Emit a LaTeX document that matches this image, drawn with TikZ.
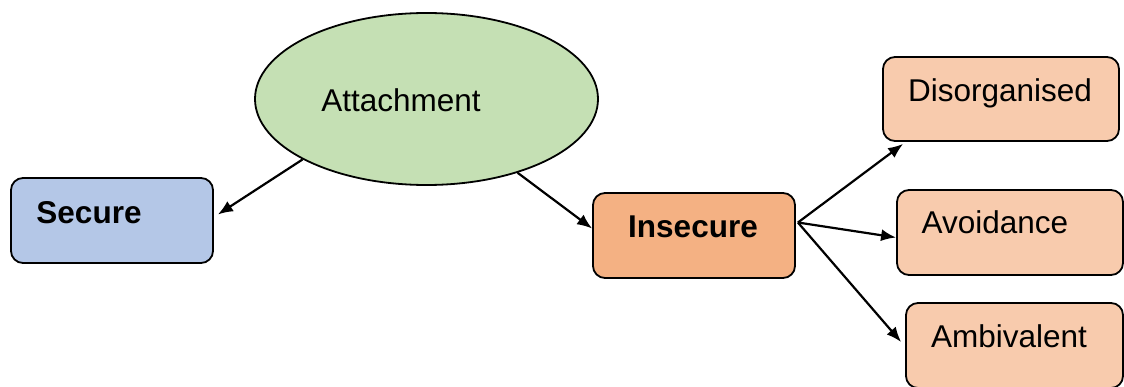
\documentclass[tikz,border=0pt]{standalone}
\usepackage{fontspec}
\setmainfont{Liberation Sans}
\usetikzlibrary{shapes.geometric,arrows.meta,calc}

\definecolor{securefill}{HTML}{B4C7E7}
\definecolor{attachfill}{HTML}{C5E0B4}
\definecolor{insecurefill}{HTML}{F4B183}
\definecolor{subfill}{HTML}{F8CBAD}

\tikzset{
  box/.style={draw=black, line width=1.8pt, rounded corners=12pt, inner sep=0pt},
  oval/.style={ellipse, draw=black, line width=1.8pt, inner sep=0pt},
  lbl/.style={anchor=base, inner sep=0pt, font=\fontsize{31.5}{36}\selectfont},
  conn/.style={line width=2.2pt, -{Latex[length=15pt,width=12pt]}},
}

\begin{document}
\begin{tikzpicture}[x=1pt,y=1pt]
  \clip (0,0) rectangle (1124,386);

  % shapes
  \node[oval, fill=attachfill, minimum width=343pt, minimum height=172pt] (att) at (426.5,287) {};
  \node[box, fill=securefill, minimum width=202pt, minimum height=85pt] (sec) at (112,165.5) {};
  \node[box, fill=insecurefill, minimum width=202pt, minimum height=85pt] (ins) at (694,150.5) {};
  \node[box, fill=subfill, minimum width=236pt, minimum height=84pt] (dis) at (1001,287) {};
  \node[box, fill=subfill, minimum width=226pt, minimum height=85pt] (avo) at (1010,153.5) {};
  \node[box, fill=subfill, minimum width=217pt, minimum height=85pt] (amb) at (1014.5,40.5) {};

  % labels
  \node[lbl] (att-t) at (401,274) {Attachment};
  \node[lbl, font=\fontsize{31.5}{36}\selectfont\bfseries] (sec-t) at (89,163) {Secure};
  \node[lbl, font=\fontsize{31.5}{36}\selectfont\bfseries] (ins-t) at (693,149) {Insecure};
  \node[lbl] (dis-t) at (1000,284) {Disorganised};
  \node[lbl] (avo-t) at (995,153) {Avoidance};
  \node[lbl] (amb-t) at (1009,39) {Ambivalent};

  % connectors
  \coordinate (fork) at ($(ins.east)+(2,13)$);
  \draw[conn] (att.206.7) -- ($(sec.east)+(4,6)$);
  \draw[conn] (att.-39) -- ($(ins.west)+(0,7)$);
  \draw[conn] (fork) -- ($(dis.south west)+(21,-2)$);
  \draw[conn] (fork) -- ($(avo.west)+(0,-5)$);
  \draw[conn] (fork) -- ($(amb.west)+(-4,3.5)$);
\end{tikzpicture}
\end{document}
